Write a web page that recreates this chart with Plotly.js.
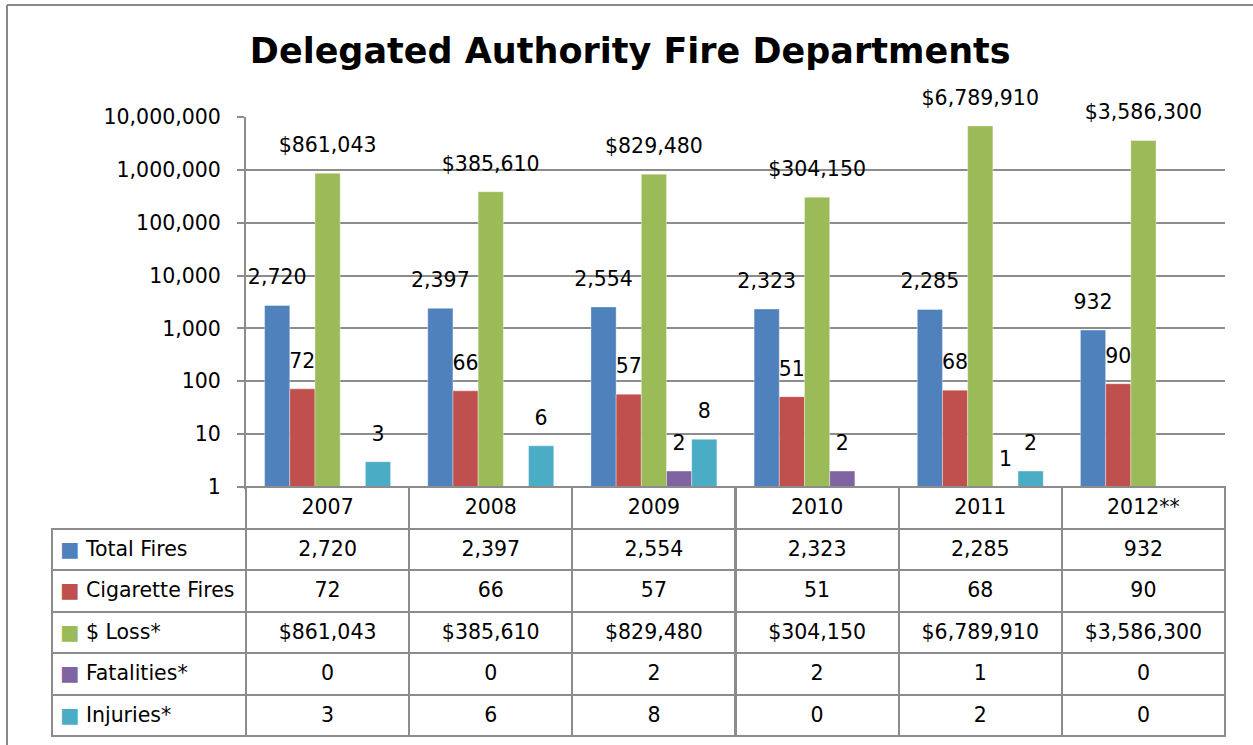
<!DOCTYPE html>
<html>
<head>
<meta charset="utf-8">
<script src="https://cdn.plot.ly/plotly-3.0.1.min.js"></script>
<style>html,body{margin:0;padding:0;background:#fff;}#chart{width:1253px;height:745px;}</style>
</head>
<body>
<div id="chart"></div>
<script>
// ---- data ----
var years = ['2007', '2008', '2009', '2010', '2011', '2012**'];
var seriesNames = ['Total Fires', 'Cigarette Fires', '$ Loss*', 'Fatalities*', 'Injuries*'];
var totalFires = [2720, 2397, 2554, 2323, 2285, 932];
var cigaretteFires = [72, 66, 57, 51, 68, 90];
var dollarLoss = [861043, 385610, 829480, 304150, 6789910, 3586300];
var fatalities = [0, 0, 2, 2, 1, 0];
var injuries = [3, 6, 8, 0, 2, 0];
var tickValues = [1, 10, 100, 1000, 10000, 100000, 1000000, 10000000];
var tickLabels = ['1', '10', '100', '1,000', '10,000', '100,000', '1,000,000', '10,000,000'];

var colors = ['#4F81BD', '#C0504D', '#9BBB59', '#8064A2', '#4BACC6'];
var allSeries = [totalFires, cigaretteFires, dollarLoss, fatalities, injuries];
var prefixes = ['', '', '$', '', ''];
var FONT = 'DejaVu Sans';
var FS = 20.5;
var GRID = '#8c8c8c';
var W = 1253, H = 745;

function fmt(v, p) { return p + v.toLocaleString('en-US'); }
function px(x) { return x / W; }
function py(y) { return (H - y) / H; }

var traces = [];
allSeries.forEach(function (vals, i) {
  traces.push({
    type: 'bar', name: seriesNames[i], x: years,
    y: vals.map(function (v) { return v > 0 ? v : null; }),
    marker: { color: colors[i], line: { width: 0.6, color: 'rgba(255,255,255,0.6)' } },
    hoverinfo: 'x+y+name', showlegend: false
  });
});
allSeries.forEach(function (vals, i) {
  traces.push({
    type: 'scatter', mode: 'markers+text', name: seriesNames[i] + ' label', x: years,
    y: vals.map(function (v) { return v > 0 ? v : null; }),
    text: vals.map(function (v) { return v > 0 ? fmt(v, prefixes[i]) : ''; }),
    textposition: 'top center',
    textfont: { family: FONT, size: FS, color: '#000' },
    marker: { size: 24, color: 'rgba(0,0,0,0)' },
    cliponaxis: false, hoverinfo: 'skip', showlegend: false
  });
});

// data table
var firstCol = seriesNames.map(function (n, i) {
  return '<span style="color:' + colors[i] + '">\u25A0</span> ' + n + '<br>';
});
var tableCols = [firstCol];
years.forEach(function (y, j) {
  tableCols.push(allSeries.map(function (vals, i) { return fmt(vals[j], prefixes[i]) + '<br>'; }));
});
var colW = [194];
years.forEach(function () { colW.push(979 / 6); });
var headerLine = ['rgba(0,0,0,0)'];
var headerFill = ['rgba(0,0,0,0)'];
years.forEach(function () { headerLine.push(GRID); headerFill.push('#fff'); });
var aligns = ['left'];
years.forEach(function () { aligns.push('center'); });

traces.push({
  type: 'table',
  domain: { x: [px(52), px(1225)], y: [py(737), py(487)] },
  columnwidth: colW,
  header: {
    values: [''].concat(years.map(function (y) { return y + '<br>'; })),
    align: aligns, height: 41.5,
    line: { color: headerLine, width: 2 },
    fill: { color: headerFill },
    font: { family: FONT, size: FS, color: '#000' }
  },
  cells: {
    values: tableCols,
    align: aligns, height: 41.5,
    line: { color: GRID, width: 2 },
    fill: { color: '#fff' },
    font: { family: FONT, size: FS, color: '#000' }
  }
});

var layout = {
  width: W, height: H,
  margin: { l: 0, r: 0, t: 0, b: 0 },
  paper_bgcolor: '#fff', plot_bgcolor: '#fff',
  font: { family: FONT, size: FS, color: '#000' },
  title: {
    text: 'Delegated Authority Fire Departments',
    x: 0.503, xanchor: 'center', y: py(51), yanchor: 'middle',
    font: { family: FONT, size: 35, weight: 'bold', color: '#000' }
  },
  barmode: 'group', bargap: 0.228, bargroupgap: 0,
  scattermode: 'group', scattergap: 0.228,
  showlegend: false,
  xaxis: {
    domain: [px(246), px(1225)], type: 'category',
    showticklabels: false, ticks: '', showgrid: false,
    showline: true, linecolor: GRID, linewidth: 2, fixedrange: true
  },
  yaxis: {
    domain: [py(487), py(117)], type: 'log', range: [0, 7],
    tickvals: tickValues, ticktext: tickLabels,
    ticks: 'outside', ticklen: 7, tickwidth: 2, tickcolor: GRID,
    ticklabelstandoff: 12,
    showgrid: true, gridcolor: GRID, gridwidth: 2,
    showline: true, linecolor: GRID, linewidth: 2,
    zeroline: false, fixedrange: true,
    tickfont: { family: FONT, size: FS, color: '#000' }
  },
  shapes: [
    { type: 'line', xref: 'paper', yref: 'paper', x0: px(7), x1: px(7), y0: 0, y1: py(5), line: { color: '#888', width: 2 } },
    { type: 'line', xref: 'paper', yref: 'paper', x0: px(7), x1: 1, y0: py(5), y1: py(5), line: { color: '#888', width: 2 } },
    { type: 'line', xref: 'paper', yref: 'paper', x0: px(246), x1: px(246), y0: py(528), y1: py(487), line: { color: GRID, width: 2 } }
  ]
};

Plotly.newPlot('chart', traces, layout, { displayModeBar: false, staticPlot: true });
</script>
</body>
</html>
